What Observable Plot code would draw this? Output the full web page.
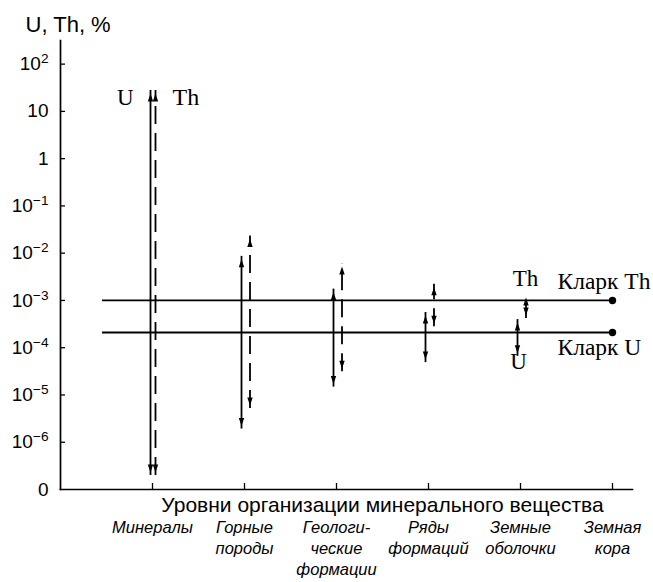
<!DOCTYPE html>
<html>
<head>
<meta charset="utf-8">
<script src="https://cdn.jsdelivr.net/npm/d3@7"></script>
<script src="https://cdn.jsdelivr.net/npm/@observablehq/plot@0.6"></script>
<style>
  html, body { margin: 0; padding: 0; background: white; }
</style>
</head>
<body>
<script>
// Levels of organisation of mineral matter
const levels = ["Минералы", "Горные\nпороды", "Геологи-\nческие\nформации", "Ряды\nформаций", "Земные\nоболочки", "Земная\nкора"];
// Ranges of U and Th content (%), first five levels
const uMin  = [2.3e-7, 2.2e-6, 1.7e-5, 5.6e-5, 7.6e-5];
const uMax  = [24,     7.4e-3, 1.5e-3, 4.8e-4, 3.4e-4];
const thMin = [2.3e-7, 6e-6,   3.6e-5, 3.2e-4, 4.8e-4];
const thMax = [24,     2.0e-2, 5.2e-3, 1.9e-3, 1.15e-3];
// Clarke values (%)
const clarkeTh = 1e-3;
const clarkeU = 2.1e-4;
// Y ticks
const yTicks = [1e2, 1e1, 1, 1e-1, 1e-2, 1e-3, 1e-4, 1e-5, 1e-6, 1e-7];
const yTickLabels = ["10^2", "10", "1", "10^−1", "10^−2", "10^−3", "10^−4", "10^−5", "10^−6", "0"];
const yTitle = "U, Th, %";
const xTitle = "Уровни организации минерального вещества";

const uData = levels.slice(0, 5).map((lv, i) => ({level: lv, min: uMin[i], max: uMax[i]}));
const thData = levels.slice(0, 5).map((lv, i) => ({level: lv, min: thMin[i], max: thMax[i]}));
const clarke = [{name: "Кларк Th", v: clarkeTh}, {name: "Кларк U", v: clarkeU}];

const headUp = {draw(ctx) { ctx.moveTo(0, 0); ctx.lineTo(2.7, 8); ctx.lineTo(-2.7, 8); ctx.closePath(); }};
const headDown = {draw(ctx) { ctx.moveTo(0, 0); ctx.lineTo(2.7, -8); ctx.lineTo(-2.7, -8); ctx.closePath(); }};

const serif = "Liberation Serif, Times New Roman, serif";
const sans = "Liberation Sans, Arial, sans-serif";

function rangeMarks(data, dx, dashed) {
  return [
    Plot.ruleX(data, {x: "level", y1: "min", y2: "max", dx, stroke: "black", strokeWidth: 1.8,
      insetTop: 3, insetBottom: 3, strokeDasharray: dashed ? "18,9" : null}),
    Plot.dot(data, {x: "level", y: "max", dx, symbol: headUp, fill: "black", stroke: null}),
    Plot.dot(data, {x: "level", y: "min", dx, symbol: headDown, fill: "black", stroke: null})
  ];
}

const svg = Plot.plot({
  width: 653,
  height: 582,
  marginLeft: 60,
  marginRight: 21,
  marginTop: 40,
  marginBottom: 93,
  style: {fontFamily: sans, fontSize: "19px", color: "black", background: "white", overflow: "visible"},
  x: {type: "point", domain: levels, padding: 0.6085, align: 0.822},
  y: {type: "log", domain: [1e-7, Math.pow(10, 2.5)]},
  marks: [
    Plot.frame({anchor: "left", stroke: "black", strokeWidth: 1.7}),
    Plot.frame({anchor: "bottom", stroke: "black", strokeWidth: 1.7}),
    Plot.tickY(yTicks.slice(0, -1), {y: d => d, insetRight: 567, stroke: "black", strokeWidth: 1.3}),
    Plot.tickX(levels, {x: d => d, insetTop: 443, stroke: "black", strokeWidth: 1.3}),
    Plot.axisY(yTicks, {tickSize: 0, tickPadding: 12, fontSize: 19, label: null,
      tickFormat: d => yTickLabels[yTicks.indexOf(d)]}),
    Plot.axisX({tickSize: 0, tickPadding: 29, fontSize: 16.5, fontStyle: "italic", lineHeight: 1.27, label: null}),
    Plot.text([yTitle], {frameAnchor: "top-left", textAnchor: "start", lineAnchor: "bottom", dx: -35, dy: -9, fontSize: 22}),
    Plot.text([xTitle], {frameAnchor: "bottom", lineAnchor: "bottom", dx: 36, dy: 22, fontSize: 21}),
    // Clarke lines
    Plot.ruleY(clarke, {y: "v", insetLeft: 42, insetRight: 21, stroke: "black", strokeWidth: 1.8}),
    Plot.dot(clarke, {x: () => levels[5], y: "v", r: 3.7, fill: "black", stroke: null}),
    Plot.text(clarke.slice(0, 1), {x: () => levels[5], y: "v", text: "name", textAnchor: "start", lineAnchor: "bottom", dx: -55, dy: -11, fontFamily: serif, fontSize: 23.5}),
    Plot.text(clarke.slice(1), {x: () => levels[5], y: "v", text: "name", textAnchor: "start", lineAnchor: "bottom", dx: -55, dy: 23, fontFamily: serif, fontSize: 23.5}),
    // ranges
    ...rangeMarks(uData.slice(0, 1), -2, false),
    ...rangeMarks(thData.slice(0, 1), 3, true),
    ...rangeMarks(uData.slice(1), -3, false),
    ...rangeMarks(thData.slice(1), 5.5, true),
    // U / Th labels
    Plot.text(uData.slice(0, 1), {x: "level", y: "max", text: () => "U", textAnchor: "end", lineAnchor: "bottom", dx: -19, dy: 12, fontFamily: serif, fontSize: 23}),
    Plot.text(thData.slice(0, 1), {x: "level", y: "max", text: () => "Th", textAnchor: "start", lineAnchor: "bottom", dx: 20, dy: 12, fontFamily: serif, fontSize: 24}),
    Plot.text(thData.slice(4), {x: "level", y: "max", text: () => "Th", lineAnchor: "bottom", dx: 5, dy: -12, fontFamily: serif, fontSize: 23}),
    Plot.text(uData.slice(4), {x: "level", y: "min", text: () => "U", lineAnchor: "bottom", dx: -2, dy: 16, fontFamily: serif, fontSize: 23})
  ]
});

// superscripts for powers of ten
const NS = "http://www.w3.org/2000/svg";
svg.querySelectorAll('g[aria-label="y-axis tick label"] text').forEach(t => {
  const s = t.textContent;
  const k = s.indexOf("^");
  if (k >= 0) {
    t.textContent = s.slice(0, k);
    const ts = document.createElementNS(NS, "tspan");
    ts.setAttribute("dy", "-0.5em");
    ts.setAttribute("font-size", "0.72em");
    ts.textContent = s.slice(k + 1);
    t.appendChild(ts);
  }
});

document.body.appendChild(svg);
</script>
</body>
</html>
